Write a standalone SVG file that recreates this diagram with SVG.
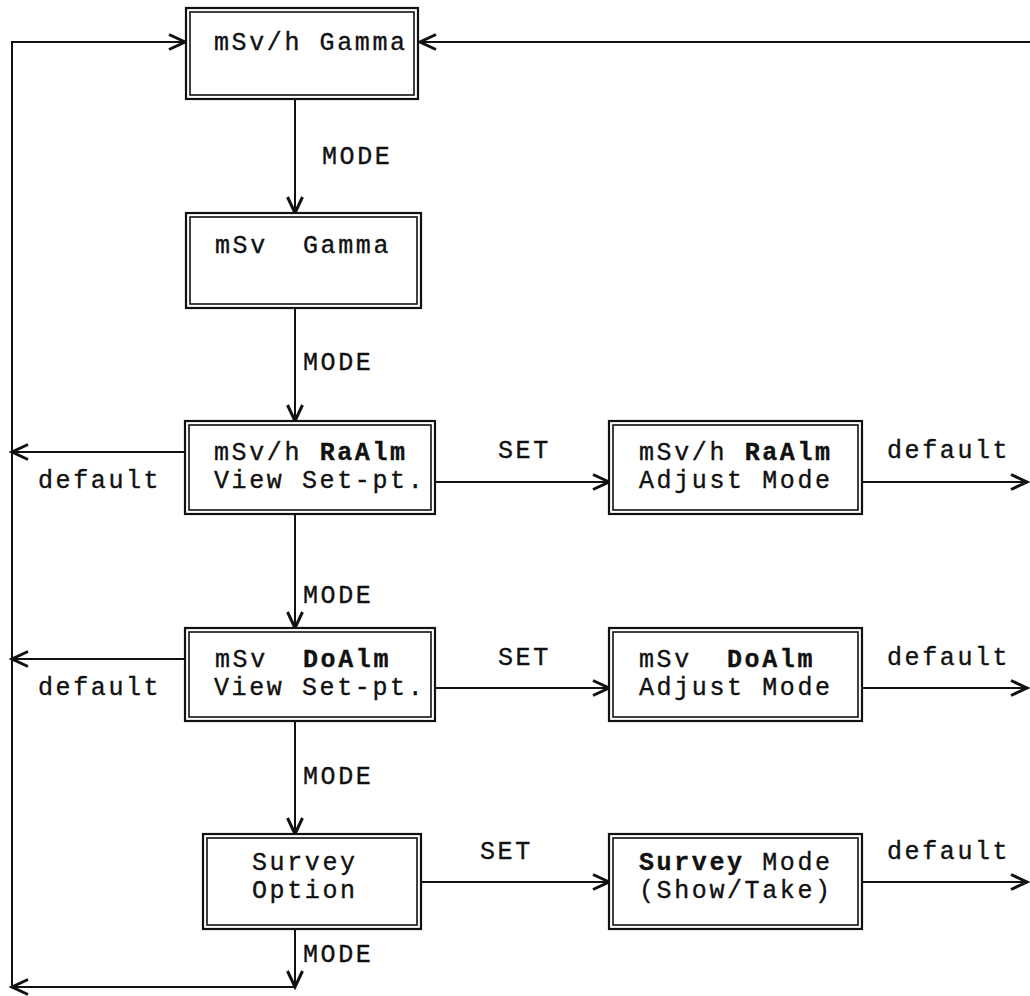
<svg xmlns="http://www.w3.org/2000/svg" width="1030" height="996" viewBox="0 0 1030 996">
<style>
text{font-family:"Liberation Mono","Courier New",monospace;font-size:25px;letter-spacing:2.6px;fill:#111;stroke:#111;stroke-width:0.35}
.b{font-weight:bold}
.outer{fill:#fff;stroke:#111;stroke-width:2.2}
.inner{fill:none;stroke:#111;stroke-width:1.6}
.ln{fill:none;stroke:#111;stroke-width:2}
</style>
<defs>
<marker id="ah" markerUnits="userSpaceOnUse" markerWidth="24" markerHeight="24" viewBox="-20 -12 24 24" refX="0" refY="0" orient="auto">
<polyline points="-16,-7.5 0,0 -16,7.5" fill="none" stroke="#111" stroke-width="3" stroke-linejoin="miter"/>
</marker>
</defs>
<g id="connectors">
<polyline class="ln" points="12,987 12,42 185,42" marker-end="url(#ah)"/>
<line class="ln" x1="1030" y1="42" x2="420" y2="42" marker-end="url(#ah)"/>
<line class="ln" x1="295" y1="99" x2="295" y2="213" marker-end="url(#ah)"/>
<line class="ln" x1="295" y1="308" x2="295" y2="421" marker-end="url(#ah)"/>
<line class="ln" x1="295" y1="514" x2="295" y2="628" marker-end="url(#ah)"/>
<line class="ln" x1="295" y1="721" x2="295" y2="834" marker-end="url(#ah)"/>
<line class="ln" x1="295" y1="929" x2="295" y2="987" marker-end="url(#ah)"/>
<line class="ln" x1="295" y1="987" x2="12" y2="987" marker-end="url(#ah)"/>
<line class="ln" x1="185" y1="452" x2="12" y2="452" marker-end="url(#ah)"/>
<line class="ln" x1="185" y1="659" x2="12" y2="659" marker-end="url(#ah)"/>
<line class="ln" x1="435" y1="482" x2="609" y2="482" marker-end="url(#ah)"/>
<line class="ln" x1="435" y1="688" x2="609" y2="688" marker-end="url(#ah)"/>
<line class="ln" x1="421" y1="882" x2="609" y2="882" marker-end="url(#ah)"/>
<line class="ln" x1="862" y1="482" x2="1027" y2="482" marker-end="url(#ah)"/>
<line class="ln" x1="862" y1="688" x2="1027" y2="688" marker-end="url(#ah)"/>
<line class="ln" x1="862" y1="882" x2="1027" y2="882" marker-end="url(#ah)"/>
<text x="322" y="164">MODE</text>
<text x="303" y="370">MODE</text>
<text x="303" y="603">MODE</text>
<text x="303" y="784">MODE</text>
<text x="303" y="962">MODE</text>
<text x="38" y="488">default</text>
<text x="38" y="695">default</text>
<text x="498" y="458">SET</text>
<text x="498" y="665">SET</text>
<text x="480" y="859">SET</text>
<text x="887" y="458">default</text>
<text x="887" y="665">default</text>
<text x="887" y="859">default</text>
</g>
<g id="n1"><rect class="outer" x="186" y="8" width="232" height="91"/><rect class="inner" x="190" y="12" width="224" height="83"/><text x="214" y="50">mSv/h Gamma</text></g>
<g id="n2"><rect class="outer" x="186" y="213" width="235" height="95"/><rect class="inner" x="190" y="217" width="227" height="87"/><text x="215" y="253" xml:space="preserve">mSv  Gamma</text></g>
<g id="n3"><rect class="outer" x="185" y="421" width="250" height="93"/><rect class="inner" x="189" y="425" width="242" height="85"/><text x="214" y="460">mSv/h <tspan class="b">RaAlm</tspan></text><text x="214" y="488">View Set-pt.</text></g>
<g id="n4"><rect class="outer" x="609" y="421" width="253" height="93"/><rect class="inner" x="613" y="425" width="245" height="85"/><text x="639" y="460">mSv/h <tspan class="b">RaAlm</tspan></text><text x="639" y="488">Adjust Mode</text></g>
<g id="n5"><rect class="outer" x="185" y="628" width="250" height="93"/><rect class="inner" x="189" y="632" width="242" height="85"/><text x="215" y="667" xml:space="preserve">mSv  <tspan class="b">DoAlm</tspan></text><text x="214" y="695">View Set-pt.</text></g>
<g id="n6"><rect class="outer" x="609" y="628" width="253" height="93"/><rect class="inner" x="613" y="632" width="245" height="85"/><text x="639" y="667" xml:space="preserve">mSv  <tspan class="b">DoAlm</tspan></text><text x="639" y="695">Adjust Mode</text></g>
<g id="n7"><rect class="outer" x="203" y="834" width="218" height="95"/><rect class="inner" x="207" y="838" width="210" height="87"/><text x="252" y="870">Survey</text><text x="252" y="898">Option</text></g>
<g id="n8"><rect class="outer" x="609" y="834" width="253" height="95"/><rect class="inner" x="613" y="838" width="245" height="87"/><text x="639" y="870"><tspan class="b">Survey</tspan> Mode</text><text x="639" y="898">(Show/Take)</text></g>
</svg>
